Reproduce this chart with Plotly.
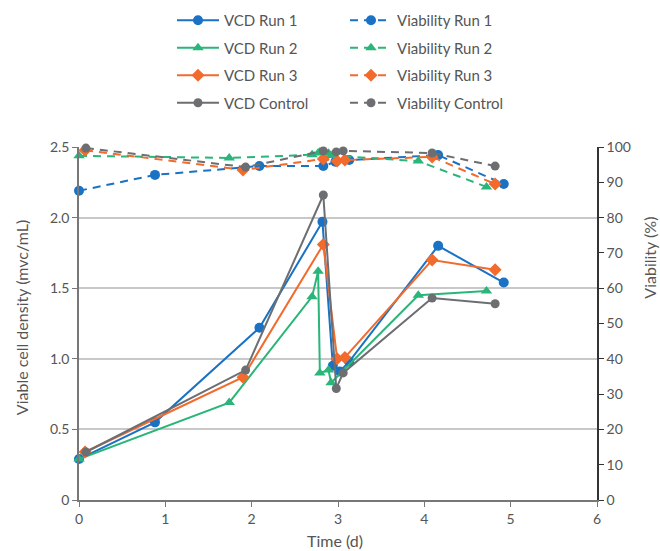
import plotly.graph_objects as go

# ---- data ----
t_vcd_run1 = [0.0, 0.88, 2.09, 2.82, 2.94, 3.02, 3.13, 4.16, 4.92]
vcd_run1 = [0.29, 0.55, 1.22, 1.97, 0.95, 0.91, 0.98, 1.80, 1.54]
t_via_run1 = [0.0, 0.88, 2.09, 2.83, 2.97, 3.13, 4.16, 4.92]
via_run1 = [87.6, 92.1, 94.6, 94.6, 95.8, 96.3, 97.7, 89.5]

t_run2 = [0.0, 1.74, 2.70, 2.77, 2.79, 2.89, 2.92, 3.93, 4.72]
vcd_run2 = [0.29, 0.69, 1.44, 1.62, 0.90, 0.92, 0.83, 1.45, 1.48]
via_run2 = [97.5, 96.9, 97.8, 98.3, 98.6, 98.2, 97.6, 96.0, 88.7]

t_run3 = [0.07, 1.90, 2.83, 2.99, 3.08, 4.09, 4.82]
vcd_run3 = [0.34, 0.87, 1.81, 1.00, 1.01, 1.70, 1.63]
via_run3 = [99.1, 93.5, 96.6, 96.0, 96.3, 97.2, 89.5]

t_ctrl = [0.08, 1.93, 2.83, 2.98, 3.06, 4.09, 4.82]
vcd_ctrl = [0.34, 0.92, 2.16, 0.79, 0.90, 1.43, 1.39]
via_ctrl = [99.7, 94.3, 98.9, 98.6, 98.9, 98.3, 94.6]

y_tickvals = [0, 0.5, 1.0, 1.5, 2.0, 2.5]
y_ticktext = ["0", "0.5", "1.0", "1.5", "2.0", "2.5"]

BLUE = "#1a72c4"
GREEN = "#2ab57a"
ORANGE = "#f26a2c"
GRAY = "#6d6e72"
FONT = "Lato"
TXT = "#555555"

fig = go.Figure()

def vcd(name, x, y, color, symbol, size, group):
    fig.add_trace(go.Scatter(
        x=x, y=y, name=name, mode="lines+markers",
        line=dict(color=color, width=2),
        marker=dict(color=color, symbol=symbol, size=size),
        cliponaxis=False, legend="legend", legendgroup=group))

def via(name, x, y, color, symbol, size, group):
    fig.add_trace(go.Scatter(
        x=x, y=y, name=name, mode="lines+markers", yaxis="y2",
        line=dict(color=color, width=2, dash="8px,6px"),
        marker=dict(color=color, symbol=symbol, size=size),
        cliponaxis=False, legend="legend2", legendgroup=group))

vcd("VCD Run 1", t_vcd_run1, vcd_run1, BLUE, "circle", 10, "a")
vcd("VCD Run 2", t_run2, vcd_run2, GREEN, "triangle-up", 10, "b")
vcd("VCD Run 3", t_run3, vcd_run3, ORANGE, "diamond", 10, "c")
vcd("VCD Control", t_ctrl, vcd_ctrl, GRAY, "circle", 9, "d")
via("Viability Run 1", t_via_run1, via_run1, BLUE, "circle", 10, "e")
via("Viability Run 2", t_run2, via_run2, GREEN, "triangle-up", 10, "f")
via("Viability Run 3", t_run3, via_run3, ORANGE, "diamond", 10, "g")
via("Viability Control", t_ctrl, via_ctrl, GRAY, "circle", 9, "h")

legend_common = dict(
    xref="container", yref="paper", y=1.405, yanchor="top", xanchor="left",
    font=dict(family=FONT, size=15, color=TXT), bgcolor="rgba(0,0,0,0)",
    tracegroupgap=5, itemwidth=42)

title_font = dict(family=FONT, size=16, color=TXT)

fig.update_layout(
    width=660, height=551,
    margin=dict(l=79, r=63, t=147, b=51, autoexpand=False),
    plot_bgcolor="white", paper_bgcolor="white",
    font=dict(family=FONT, size=14, color=TXT),
    legend=dict(x=172 / 660, **legend_common),
    legend2=dict(x=345 / 660, **legend_common),
    xaxis=dict(range=[0, 6], dtick=1, ticks="outside", ticklen=5,
               tickcolor="#777", showline=True, linecolor="#777", linewidth=1.5,
               showgrid=False, zeroline=False,
               tickfont=dict(size=14, color=TXT)),
    yaxis=dict(range=[0, 2.5], tickvals=y_tickvals, ticktext=y_ticktext,
               ticks="outside", ticklen=5, tickcolor="#777",
               showline=True, linecolor="#777", linewidth=1.5,
               showgrid=True, gridcolor="#c8c8c8", gridwidth=1.5, zeroline=False,
               tickfont=dict(size=14, color=TXT)),
    yaxis2=dict(range=[0, 100], dtick=10, overlaying="y", side="right",
                ticks="outside", ticklen=5, tickcolor="#333",
                showline=True, linecolor="#333", linewidth=1.5,
                showgrid=False, zeroline=False,
                tickfont=dict(size=14, color=TXT)),
    annotations=[
        dict(text="Time (d)", xref="paper", yref="paper", x=0.494, y=-0.116,
             showarrow=False, font=title_font, xanchor="center", yanchor="middle"),
        dict(text="Viable cell density (mvc/mL)", xref="paper", yref="paper",
             x=-0.112, y=0.518, textangle=-90, showarrow=False, font=title_font,
             xanchor="center", yanchor="middle"),
        dict(text="Viability (%)", xref="paper", yref="paper",
             x=1.102, y=0.686, textangle=-90, showarrow=False, font=title_font,
             xanchor="center", yanchor="middle"),
    ],
)

fig.write_html(
    "out.html",
    config={"displayModeBar": False},
    post_script="document.body.style.margin='0';document.body.style.overflow='hidden';",
)
